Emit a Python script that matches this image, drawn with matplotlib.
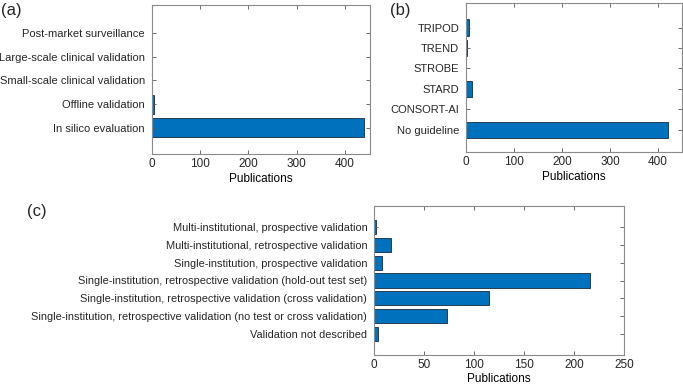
import matplotlib
matplotlib.use("Agg")
import matplotlib.pyplot as plt
import numpy as np

matplotlib.rcParams["font.family"] = ["Liberation Sans", "DejaVu Sans"]
matplotlib.rcParams["text.color"] = "#262626"
matplotlib.rcParams["xtick.color"] = "#262626"
matplotlib.rcParams["ytick.color"] = "#262626"

# ============================================================
# 数据
# ============================================================
stage_labels = ["In silico evaluation", "Offline validation",
                "Small-scale clinical validation", "Large-scale clinical validation",
                "Post-market surveillance"]
stage_counts = [440, 4, 0, 0, 0]

guide_labels = ["No guideline", "CONSORT-AI", "STARD", "STROBE", "TREND", "TRIPOD"]
guide_counts = [421, 1, 13, 1, 3, 7]

valid_labels = ["Validation not described",
                "Single-institution, retrospective validation (no test or cross validation)",
                "Single-institution, retrospective validation (cross validation)",
                "Single-institution, retrospective validation (hold-out test set)",
                "Single-institution, prospective validation",
                "Multi-institutional, retrospective validation",
                "Multi-institutional, prospective validation"]
valid_counts = [4, 73, 115, 216, 8, 17, 2]

BAR_COLOR = "#0072BD"
W, H = 683, 385


def px_axes(fig, left, right, top, bottom):
    return fig.add_axes([left / W, 1 - bottom / H, (right - left) / W, (bottom - top) / H])


def draw_panel(ax, labels, counts, xlim, xticks, ylim, fs):
    pos = np.arange(1, len(labels) + 1)
    ax.barh(pos, counts, height=0.8, color=BAR_COLOR, edgecolor="#1a2a3a", linewidth=0.6)
    ax.set_yticks(pos)
    ax.set_yticklabels(labels, fontsize=fs)
    ax.set_xticks(xticks)
    ax.tick_params(axis="x", labelsize=8.5, pad=3)
    ax.set_xlim(*xlim)
    ax.set_ylim(*ylim)
    ax.tick_params(direction="in", length=3, width=0.6, top=True, right=True, color="#555555")
    ax.tick_params(axis="y", pad=5)
    for s in ax.spines.values():
        s.set_color("#8a8a8a")
        s.set_linewidth(0.8)
    ax.set_xlabel("Publications", fontsize=8.5, labelpad=2)


fig = plt.figure(figsize=(W / 100, H / 100), dpi=100)

# (a)
ax_a = px_axes(fig, 152, 370, 5, 154)
draw_panel(ax_a, stage_labels, stage_counts, (0, 452), [0, 100, 200, 300, 400], (-0.1, 6.18), 8)
fig.text(1 / W, 1 - 11 / H, "(a)", fontsize=12, va="center", ha="left")

# (b)
ax_b = px_axes(fig, 466, 682, 3, 152)
draw_panel(ax_b, guide_labels, guide_counts, (0, 450), [0, 100, 200, 300, 400], (-0.08, 7.2), 8)
fig.text(390 / W, 1 - 11 / H, "(b)", fontsize=12, va="center", ha="left")

# (c)
ax_c = px_axes(fig, 374.3, 624.3, 206, 355)
draw_panel(ax_c, valid_labels, valid_counts, (0, 250), [0, 50, 100, 150, 200, 250], (-0.2, 8.2), 7.9)
ax_c.xaxis.labelpad = 1
fig.text(27 / W, 1 - 212 / H, "(c)", fontsize=12, va="center", ha="left")

fig.savefig("out.png", dpi=100, facecolor="white")
plt.close(fig)
